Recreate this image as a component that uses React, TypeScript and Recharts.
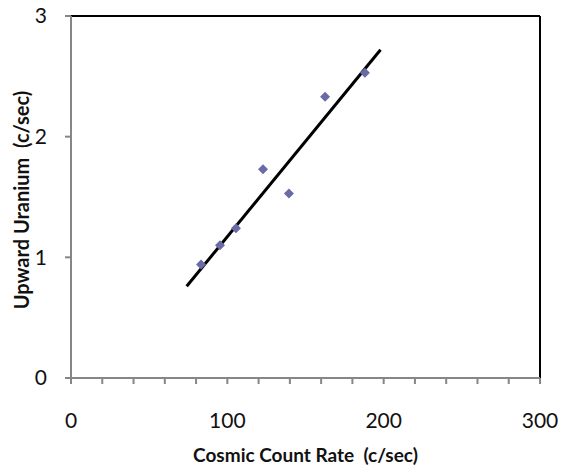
import { ScatterChart, Scatter, XAxis, YAxis, ReferenceLine, Label } from "recharts";

// measured cosmic vs upward uranium count rates
const cosmicRate = [83.2, 95.3, 105.5, 122.8, 139.4, 162.5, 188.0];
const uraniumRate = [0.94, 1.1, 1.24, 1.73, 1.53, 2.33, 2.53];

// fitted trend line, drawn between its two end points
const trendX = [74, 198];
const trendY = [0.76, 2.72];

const xTicks = [0, 20, 40, 60, 80, 100, 120, 140, 160, 180, 200, 220, 240, 260, 280, 300];
const yTicks = [0, 1, 2, 3];

const points = cosmicRate.map((x, i) => ({ x, y: uraniumRate[i] }));
const trend = trendX.map((x, i) => ({ x, y: trendY[i] }));

const FONT = "Lato, 'Open Sans', sans-serif";
const AXIS = "#868686";
const MARK = "#6A6AA6";
const TEXT = "#111";

function Diamond(props: any) {
  const { cx, cy } = props;
  const r = 5;
  return (
    <polygon
      points={`${cx},${cy - r} ${cx + r},${cy} ${cx},${cy + r} ${cx - r},${cy}`}
      fill={MARK}
    />
  );
}

function XTick(props: any) {
  const { x, y, payload } = props;
  if (payload.value % 100 !== 0) return null;
  return (
    <text x={x} y={y + 42} textAnchor="middle" fontFamily={FONT} fontSize={21} fill={TEXT}>
      {payload.value}
    </text>
  );
}

function XTitle(props: any) {
  const { viewBox } = props;
  return (
    <text
      x={viewBox.x + viewBox.width / 2}
      y={462}
      textAnchor="middle"
      fontFamily={FONT}
      fontSize={19}
      fontWeight={700}
      fill={TEXT}
      style={{ whiteSpace: "pre" }}
    >
      Cosmic Count Rate{"\u00a0 "}(c/sec)
    </text>
  );
}

function YTitle(props: any) {
  const { viewBox } = props;
  const cx = 29;
  const cy = viewBox.y + viewBox.height / 2 + 3;
  return (
    <text
      x={cx}
      y={cy}
      transform={`rotate(-90 ${cx} ${cy})`}
      textAnchor="middle"
      fontFamily={FONT}
      fontSize={20}
      fontWeight={700}
      fill={TEXT}
      style={{ whiteSpace: "pre" }}
    >
      Upward Uranium{"\u00a0 "}(c/sec)
    </text>
  );
}

export default function App() {
  return (
    <div style={{ position: "absolute", left: 0, top: 0, background: "#fff" }}>
      <ScatterChart width={565} height={472} margin={{ top: 16, right: 25, bottom: 0, left: 0 }}>
        <XAxis
          type="number"
          dataKey="x"
          domain={[0, 300]}
          ticks={xTicks}
          interval={0}
          axisLine={{ stroke: AXIS, strokeWidth: 2 }}
          tickLine={{ stroke: AXIS, strokeWidth: 2 }}
          tickSize={6}
          tick={<XTick />}
          height={94}
        >
          <Label content={<XTitle />} />
        </XAxis>
        <YAxis
          type="number"
          dataKey="y"
          domain={[0, 3]}
          ticks={yTicks}
          interval={0}
          axisLine={{ stroke: AXIS, strokeWidth: 2 }}
          tickLine={{ stroke: AXIS, strokeWidth: 2 }}
          tickSize={6}
          tickMargin={18}
          tick={{ fontFamily: FONT, fontSize: 21, fill: TEXT }}
          width={71}
        >
          <Label content={<YTitle />} />
        </YAxis>
        <ReferenceLine y={3} stroke="#000" strokeWidth={2} />
        <ReferenceLine x={300} stroke="#000" strokeWidth={2} />
        <Scatter
          data={trend}
          line={{ stroke: "#000", strokeWidth: 3 }}
          shape={() => null}
          isAnimationActive={false}
        />
        <Scatter data={points} shape={<Diamond />} isAnimationActive={false} />
      </ScatterChart>
    </div>
  );
}
